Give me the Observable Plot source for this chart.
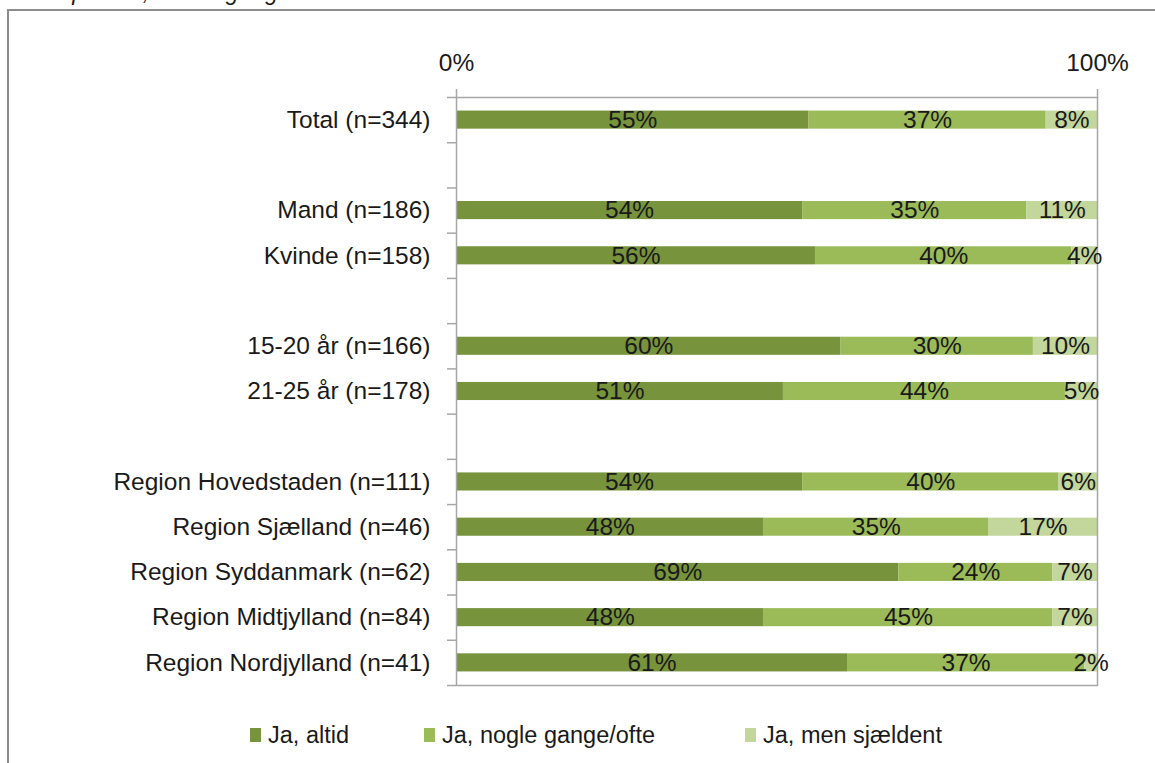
<!DOCTYPE html>
<html>
<head>
<meta charset="utf-8">
<script src="https://cdn.jsdelivr.net/npm/d3@7"></script>
<script src="https://cdn.jsdelivr.net/npm/@observablehq/plot@0.6"></script>
<style>
  html, body { margin: 0; padding: 0; width: 1155px; height: 763px; overflow: hidden; background: #fff; }
  body { position: relative; font-family: "Liberation Sans", Arial, sans-serif; color: #1a1a1a; }
  #title { position: absolute; left: 2px; top: -21px; font-size: 23px; font-style: italic; white-space: nowrap; }
  #box { position: absolute; left: 7px; top: 9px; width: 1300px; height: 900px; border: 2px solid #8c8c8c; box-sizing: border-box; background: #fff; }
  #chart { position: absolute; left: 0; top: 0; }
  #legend { position: absolute; left: 0; top: 722px; width: 1155px; height: 26px; font-size: 23.5px; }
  .item { position: absolute; top: 0; display: flex; align-items: center; height: 26px; }
  .sw { width: 11px; height: 14px; margin-right: 7px; }
</style>
</head>
<body>
<div id="title">fordelt på køn, alder og region</div>
<div id="box"></div>
<div id="chart"></div>
<div id="legend"></div>
<script>
const categories = ["Total (n=344)", " ", "Mand (n=186)", "Kvinde (n=158)", "  ", "15-20 år (n=166)", "21-25 år (n=178)", "   ", "Region Hovedstaden (n=111)", "Region Sjælland (n=46)", "Region Syddanmark (n=62)", "Region Midtjylland (n=84)", "Region Nordjylland (n=41)"];
const series = ["Ja, altid", "Ja, nogle gange/ofte", "Ja, men sjældent"];
const altid     = [55, null, 54, 56, null, 60, 51, null, 54, 48, 69, 48, 61];
const nogle     = [37, null, 35, 40, null, 30, 44, null, 40, 35, 24, 45, 37];
const sjaeldent = [8,  null, 11, 4,  null, 10, 5,  null, 6,  17, 7,  7,  2];
const colors = ["#77933C", "#9BBB59", "#C3D69B"];
const xTicks = [0, 100];
const xTickLabels = ["0%", "100%"];
const legendLeft = [250, 424, 745];

const seriesValues = [altid, nogle, sjaeldent];
const rows = [];
categories.forEach((c, i) => {
  let acc = 0;
  seriesValues.forEach((vals, s) => {
    const v = vals[i];
    if (v == null) return;
    rows.push({cat: c, i, series: series[s], v, x1: acc, x2: acc + v});
    acc += v;
  });
});

const slotEdges = d3.range(categories.length + 1);
const slotCenters = categories.map((c, i) => i + 0.5);
const fs = 24.5;

const chart = Plot.plot({
  width: 1155,
  height: 700,
  marginLeft: 456,
  marginRight: 58,
  marginTop: 97,
  marginBottom: 15,
  style: {fontFamily: "Liberation Sans, Arial, sans-serif", fontSize: fs + "px", color: "#1a1a1a", background: "transparent", overflow: "visible"},
  x: {domain: [0, 100]},
  y: {domain: [0, categories.length], reverse: true},
  color: {domain: series, range: colors},
  marks: [
    Plot.rect(rows, {x1: "x1", x2: "x2", y1: d => d.i + 0.3, y2: d => d.i + 0.7, fill: "series"}),
    Plot.frame({stroke: "#a6a6a6", strokeWidth: 1.5}),
    Plot.axisY(slotEdges, {tickSize: 9, tickFormat: () => "", stroke: "#a6a6a6", strokeWidth: 1.5, label: null}),
    Plot.axisY(slotCenters, {tickSize: 0, tickPadding: 26, tickFormat: t => categories[Math.round(t - 0.5)], label: null, fontSize: fs}),
    Plot.axisX(xTicks, {anchor: "top", tickSize: 9, stroke: "#a6a6a6", strokeWidth: 1.5, tickPadding: 18, tickFormat: (d, i) => xTickLabels[i], label: null, fontSize: fs}),
    Plot.text(rows, {x: d => (d.x1 + d.x2) / 2, y: d => d.i + 0.5, text: d => d.v + "%", fill: "#1a1a1a", fontSize: fs})
  ]
});
document.getElementById("chart").appendChild(chart);

const legend = document.getElementById("legend");
series.forEach((s, k) => {
  const it = document.createElement("div");
  it.className = "item";
  it.style.left = legendLeft[k] + "px";
  const sw = document.createElement("span");
  sw.className = "sw";
  sw.style.background = colors[k];
  const tx = document.createElement("span");
  tx.textContent = s;
  it.appendChild(sw);
  it.appendChild(tx);
  legend.appendChild(it);
});
</script>
</body>
</html>
